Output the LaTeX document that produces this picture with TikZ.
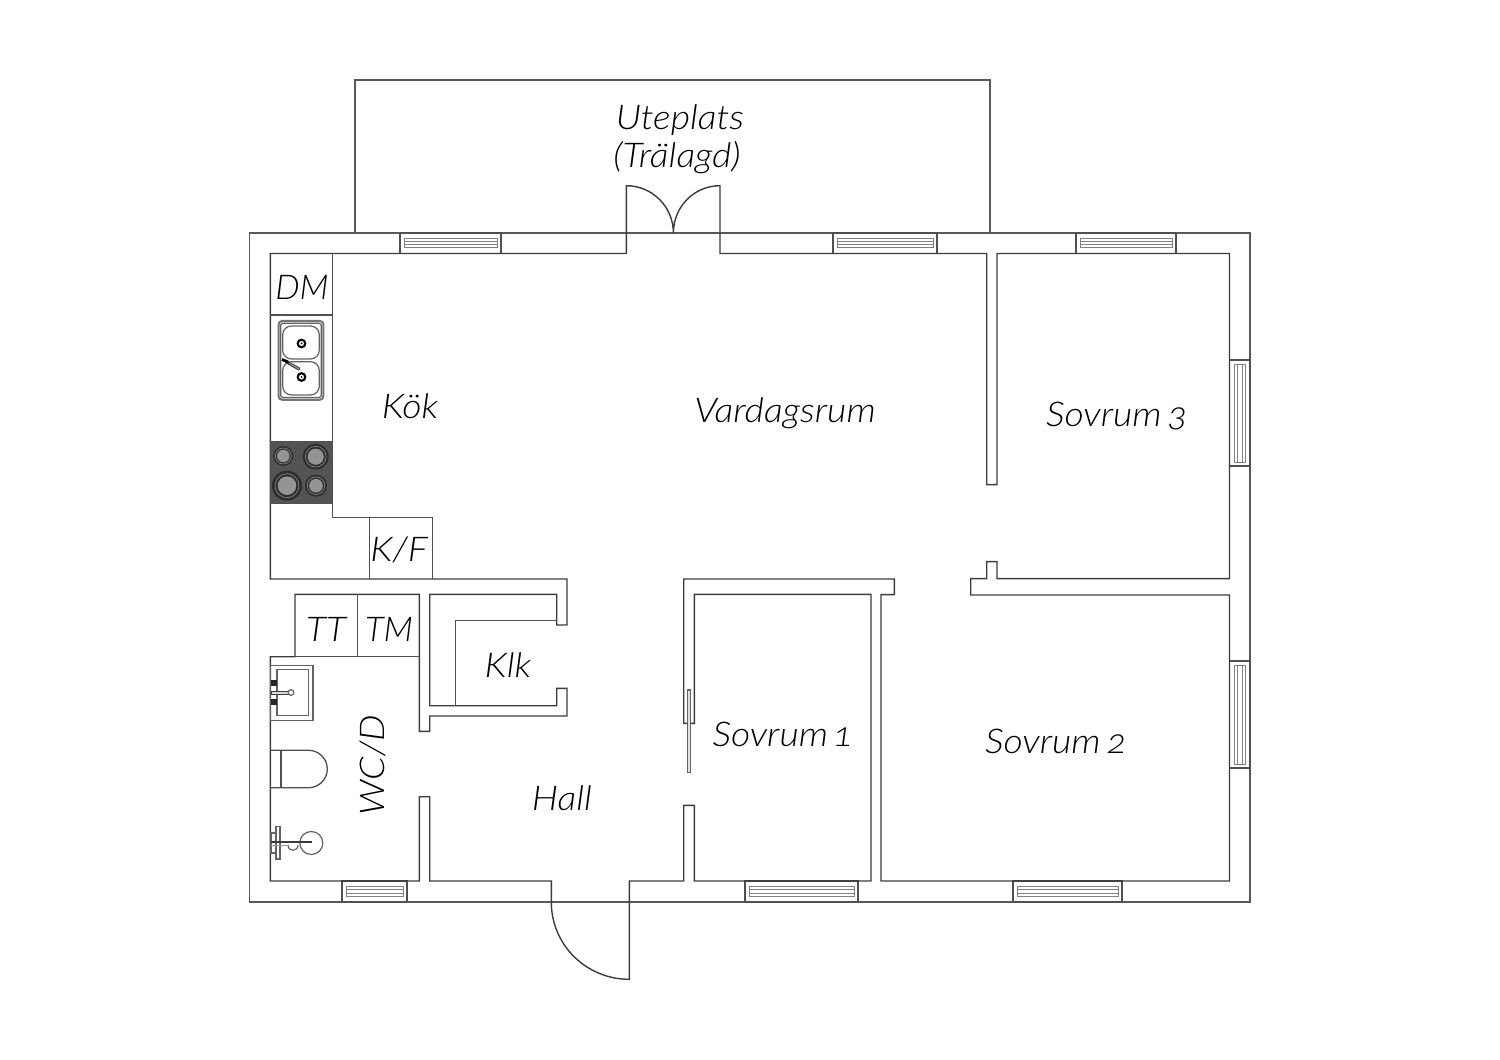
\documentclass[tikz,border=0pt]{standalone}
\usepackage{fontspec}
\setmainfont{Lato}[ItalicFont={Lato Light Italic},ItalicFeatures={FakeStretch=1.1},Numbers=OldStyle]
\definecolor{linecol}{HTML}{3C3C3C}
\tikzset{
  wall/.style={draw=linecol,line width=0.8pt,line join=miter},
  outerline/.style={draw=linecol!85,line width=0.7pt,line join=miter},
  thin line/.style={draw=linecol!90,line width=0.75pt},
  fixture/.style={draw=linecol!80,line width=0.7pt},
  glazing/.style={draw=linecol!65,line width=0.55pt},
  roomlabel/.style={font=\fontsize{19.4pt}{22pt}\selectfont\itshape,text=black,inner sep=0pt},
}
\newcommand{\hwindow}[4]{% x1,x2,ytop,ybot
  \draw[thin line] (#1,#3) rectangle (#2,#4);
  \draw[glazing] ({#1+4},{#3+5}) rectangle ({#2-4},{#4-6});
  \draw[glazing] ({#1+4},{#3+8}) -- ({#2-4},{#3+8}) ({#1+4},{#4-9}) -- ({#2-4},{#4-9});
}
\newcommand{\vwindow}[4]{% y1,y2,xleft,xright
  \draw[thin line] (#3,#1) rectangle (#4,#2);
  \draw[glazing] ({#3+5},{#1+4}) rectangle ({#4-5},{#2-4});
  \draw[glazing] ({#3+8},{#1+4}) -- ({#3+8},{#2-4}) ({#4-8},{#1+4}) -- ({#4-8},{#2-4});
}
\begin{document}
\begin{tikzpicture}[x=0.02cm,y=-0.02cm]
\useasboundingbox[fill=white] (0,0) rectangle (1500,1060);
% outer wall and terrace
\draw[outerline] (249.5,233) rectangle (1250,902);
\draw[outerline] (355,233) -- (355,80) -- (990,80) -- (990,233);
% windows
\foreach \a/\b in {400/501,833/937,1076/1176}{\hwindow{\a}{\b}{233}{253.5}}
\foreach \a/\b in {342/407,745/858,1013/1122}{\hwindow{\a}{\b}{881}{902}}
\vwindow{360}{466}{1229.5}{1250}
\vwindow{661}{768}{1229.5}{1250}
% interior walls
\draw[wall] (270.3,253.5) -- (626.3,253.5) -- (626.3,185.7)
  .. controls (652.3,185.7) and (673.4,206.8) .. (673.4,233)
  .. controls (673.4,206.8) and (694,185.7) .. (720,185.7)
  -- (720,253.5) -- (986.7,253.5) -- (986.7,484.7) -- (997,484.7) -- (997,253.5)
  -- (1229.5,253.5) -- (1229.5,578.7) -- (997,578.7) -- (997,561.7) -- (986.7,561.7)
  -- (986.7,578.7) -- (970.7,578.7) -- (970.7,595) -- (1229.5,595) -- (1229.5,881)
  -- (881,881) -- (881,594.7) -- (894.3,594.7) -- (894.3,579) -- (683.7,579)
  -- (683.7,723.3) -- (694.3,723.3) -- (694.3,594.3) -- (871,594.3) -- (871,881)
  -- (694.3,881) -- (694.3,805.3) -- (683.7,805.3) -- (683.7,881) -- (629.3,881)
  -- (629.3,979.3) .. controls (586.3,979.3) and (551.3,945) .. (551.3,902)
  -- (551.3,881) -- (429.7,881) -- (429.7,796.7) -- (419.3,796.7) -- (419.3,881)
  -- (270.3,881) -- (270.3,656.7) -- (295,656.7) -- (295,594.3) -- (419.3,594.3)
  -- (419.3,731.3) -- (429.7,731.3) -- (429.7,716) -- (567,716) -- (567,688.3)
  -- (556.7,688.3) -- (556.7,705.7) -- (429.7,705.7) -- (429.7,594.3) -- (556.7,594.3)
  -- (556.7,625) -- (567,625) -- (567,579) -- (270.3,579) -- cycle;
% kitchen units
\draw[thin line] (332.3,253.5) -- (332.3,517.3) -- (432.3,517.3) -- (432.3,579);
\draw[thin line] (369.7,517.3) -- (369.7,579);
\draw[thin line] (270.3,315) -- (332.3,315);
% laundry units
\draw[thin line] (295,656.7) -- (419.3,656.7);
\draw[thin line] (357.3,594.3) -- (357.3,656.7);
% closet shelf
\draw[thin line] (455.3,705.7) -- (455.3,620.7) -- (556.7,620.7);
% sliding door
\draw[fixture,fill=black!12] (687.3,690) rectangle (690.7,772.7);
% sink
\draw[draw=linecol!70,line width=1.2pt,rounded corners=2pt] (278.6,321) rectangle (323.4,399.7);
\draw[fixture,rounded corners=1pt] (280.8,323.2) rectangle (321.2,397.5);
\draw[fixture,rounded corners=5pt] (282.7,326) rectangle (319.3,359);
\draw[fixture,rounded corners=5pt] (282.7,361.7) rectangle (319.3,395);
\foreach \yy in {343.5,377}{
  \draw[draw=black,line width=1.2pt,fill=white] (301.5,\yy) circle (3.8);
  \fill[black] (301.5,\yy) circle (1);
}
\draw[draw=linecol,line width=1.8pt,line cap=round] (299,369) -- (286,361.5);
\draw[draw=black!45,line width=0.8pt,line cap=round] (299,369) -- (290,363.5);
\draw[draw=black,line width=1.6pt] (282,359.5) -- (288,362);
% stove
\fill[black!67] (270.3,441.7) rectangle (332.3,503.7);
\draw[thin line] (270.3,441.7) rectangle (332.3,503.7);
\foreach \xx/\yy/\rr in {283.3/456/10,315.7/456.7/13,287/485.7/15,316/485.7/11}{
  \fill[black!82] (\xx,\yy) circle (\rr);
  \draw[black!45,line width=0.35pt] (\xx,\yy) circle ({\rr*0.8});
  \fill[black!42] (\xx,\yy) circle ({\rr*0.62});
}
% wash basin
\draw[fixture] (270.3,665.7) rectangle (313,720.3);
\draw[fixture] (277,669.3) rectangle (308.7,715.7);
\fill[black!85] (270.8,680) rectangle (277,686);
\fill[black!85] (270.8,699) rectangle (277,705);
\draw[draw=linecol,line width=0.5pt,fill=black!15] (271,691) rectangle (288,694);
\draw[fixture,fill=white] (291,692.5) circle (2.8);
% toilet
\draw[thin line] (270.3,750.3) -- (308.6,750.3)
  .. controls (318.9,750.3) and (327.3,758.7) .. (327.3,769)
  .. controls (327.3,779.3) and (318.9,787.7) .. (308.6,787.7) -- (270.3,787.7);
\draw[thin line] (281,750.3) -- (281,787.7);
% bidet
\draw[fixture] (311.3,843) circle (11.5);
\draw[fixture] (276,826.7) rectangle (280,859);
\draw[fixture] (271,833) rectangle (276,853);
\draw[fixture] (288,845) .. controls (288,852) and (298,852) .. (298,845);
\draw[draw=linecol,line width=1.3pt] (271,842) -- (312,842);
\draw[draw=black!40,line width=0.5pt] (271,845) -- (288,845);
% labels
\node[roomlabel] (uteplats) at (680,120.5) {Uteplats};
\node[roomlabel] (tralagd) at (677,157.5) {(Trälagd)};
\node[roomlabel,xscale=0.92] (dm) at (302,287) {DM};
\node[roomlabel] (kok) at (410,406) {Kök};
\node[roomlabel] (vardagsrum) at (785,413.5) {Vardagsrum};
\node[roomlabel] (sovrum3) at (1117,416) {Sovrum\kern-2pt{} 3};
\node[roomlabel] (kf) at (399,550) {K/F};
\node[roomlabel] (tt) at (326,629) {TT};
\node[roomlabel,xscale=0.93] (tm) at (389,629) {TM};
\node[roomlabel] (klk) at (508,665) {Klk};
\node[roomlabel,rotate=90] (wcd) at (373,765) {WC/D};
\node[roomlabel] (hall) at (562,798) {Hall};
\node[roomlabel] (sovrum1) at (783,734) {Sovrum\kern-2.5pt{} 1};
\node[roomlabel] (sovrum2) at (1056,741) {Sovrum\kern-2pt{} 2};
\end{tikzpicture}
\end{document}
